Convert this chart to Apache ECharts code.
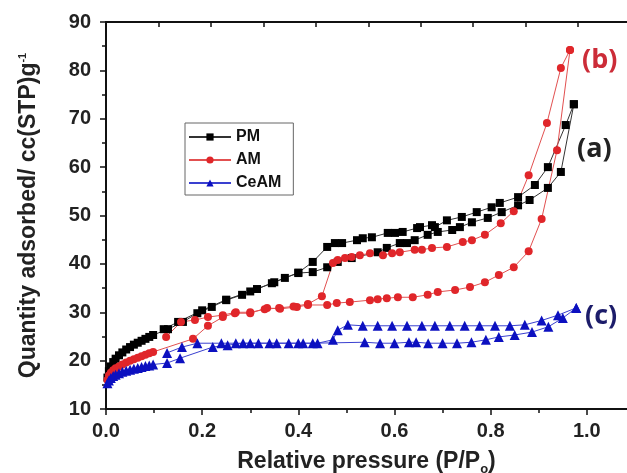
<!DOCTYPE html>
<html>
<head>
<meta charset="utf-8">
<script src="https://cdn.jsdelivr.net/npm/echarts@6/dist/echarts.min.js"></script>
<style>
html,body{margin:0;padding:0;background:#fff;overflow:hidden;}
#chart{width:627px;height:473px;}
</style>
</head>
<body>
<div id="chart"></div>
<script>
// ---- tick labels ----
var xTicks = [0.0, 0.2, 0.4, 0.6, 0.8, 1.0];
var yTicks = [10, 20, 30, 40, 50, 60, 70, 80, 90];
var seriesNames = ['PM', 'AM', 'CeAM'];
var annotations = ['(b)', '(a)', '(c)'];

// ---- PM (black squares) ----
var pmAdsP = [0.003,0.006,0.01,0.015,0.02,0.027,0.034,0.042,0.05,0.058,0.066,0.074,0.082,0.09,0.098,0.129,0.16,0.19,0.22,0.25,0.283,0.314,0.345,0.372,0.4,0.43,0.46,0.482,0.511,0.565,0.584,0.611,0.626,0.642,0.669,0.69,0.72,0.736,0.761,0.794,0.823,0.857,0.881,0.919,0.946,0.973];
var pmAdsV = [16.5,17.8,18.8,19.7,20.4,21.1,21.7,22.3,22.8,23.3,23.7,24.1,24.5,24.9,25.3,26.5,28.0,29.8,31.1,32.5,33.6,34.8,36.0,37.1,38.1,38.3,39.3,40.4,41.2,42.4,43.3,44.3,44.3,44.9,46.0,46.6,47.0,47.6,48.6,49.5,50.7,52.1,53.2,55.7,59.0,73.0];
var pmDesP = [0.973,0.956,0.919,0.892,0.857,0.819,0.802,0.771,0.74,0.709,0.684,0.678,0.653,0.647,0.617,0.601,0.586,0.553,0.534,0.522,0.491,0.476,0.46,0.43,0.4,0.35,0.3,0.25,0.2,0.15,0.12];
var pmDesV = [73.0,68.7,60.0,56.3,53.8,52.6,51.7,50.7,49.7,49.0,47.6,48.0,47.6,47.4,46.6,46.4,46.4,45.5,45.3,44.9,44.3,44.3,43.5,40.4,38.2,36.2,34.3,32.6,30.4,28.0,26.5];

// ---- AM (red circles) ----
var amAdsP = [0.003,0.006,0.01,0.015,0.02,0.027,0.034,0.042,0.05,0.058,0.066,0.074,0.082,0.09,0.098,0.181,0.212,0.243,0.268,0.3,0.335,0.362,0.397,0.42,0.46,0.48,0.507,0.549,0.565,0.584,0.607,0.638,0.669,0.69,0.726,0.757,0.788,0.817,0.848,0.879,0.906,0.938,0.965];
var amAdsV = [16.0,16.9,17.5,18.0,18.4,18.8,19.2,19.6,20.0,20.3,20.6,20.9,21.2,21.5,21.8,24.5,27.2,29.0,29.8,29.8,30.9,30.7,31.1,31.5,31.5,31.9,32.1,32.5,32.7,32.9,33.1,33.1,33.6,34.2,34.6,35.2,36.2,37.7,39.3,42.6,49.3,63.5,84.2];
var amDesP = [0.965,0.946,0.917,0.879,0.848,0.821,0.788,0.761,0.742,0.709,0.678,0.657,0.642,0.611,0.595,0.576,0.549,0.528,0.511,0.497,0.482,0.472,0.449,0.42,0.39,0.36,0.33,0.3,0.27,0.243,0.212,0.185,0.156,0.125];
var amDesV = [84.2,80.5,69.1,58.3,50.9,48.4,46.0,44.9,44.5,43.5,43.3,42.9,42.9,42.4,42.2,41.8,42.2,41.8,41.4,41.2,40.8,40.2,33.3,31.7,31.2,30.9,30.6,30.0,30.0,29.4,29.0,28.4,28.0,24.9];

// ---- CeAM (blue triangles) ----
var ceAdsP = [0.003,0.006,0.01,0.015,0.02,0.027,0.034,0.042,0.05,0.058,0.066,0.074,0.082,0.09,0.098,0.127,0.154,0.222,0.253,0.285,0.317,0.355,0.4,0.43,0.538,0.57,0.6,0.63,0.645,0.67,0.7,0.73,0.76,0.79,0.817,0.85,0.886,0.92,0.95,0.978];
var ceAdsV = [15.3,15.9,16.4,16.8,17.1,17.4,17.7,17.9,18.1,18.3,18.5,18.7,18.9,19.0,19.2,19.5,20.5,22.8,23.2,23.6,23.6,23.6,23.6,23.6,23.8,23.6,23.6,23.8,23.8,23.6,23.6,23.6,23.8,24.3,24.9,25.3,25.9,27.0,28.8,30.9];
var ceDesP = [0.978,0.94,0.906,0.871,0.84,0.809,0.777,0.746,0.715,0.684,0.657,0.626,0.595,0.565,0.534,0.503,0.482,0.472,0.44,0.41,0.38,0.34,0.3,0.27,0.24,0.19,0.158,0.127];
var ceDesV = [30.9,29.4,28.3,27.4,27.2,27.2,27.2,27.2,27.2,27.2,27.2,27.2,27.2,27.2,27.2,27.4,26.3,24.3,23.6,23.6,23.6,23.6,23.6,23.6,23.6,23.6,22.8,21.6];

function zip(p1, v1, p2, v2) {
  var out = [];
  for (var i = 0; i < p1.length; i++) out.push([p1[i], v1[i]]);
  for (var j = 0; j < p2.length; j++) out.push([p2[j], v2[j]]);
  return out;
}

var FONT = '"Liberation Sans", Arial, sans-serif';
var chart = echarts.init(document.getElementById('chart'), null, {renderer: 'canvas'});

var option = {
  backgroundColor: '#fff',
  animation: false,
  grid: {left: 106, top: 22, width: 577, height: 387, containLabel: false, outerBoundsMode: 'none'},
  legend: {
    orient: 'vertical',
    left: 185, top: 123,
    data: seriesNames,
    itemWidth: 42, itemHeight: 9, itemGap: 7,
    borderColor: '#666', borderWidth: 1,
    padding: [6, 12, 4, 3],
    textStyle: {fontFamily: FONT, fontWeight: 'bold', fontSize: 16, color: '#111'}
  },
  xAxis: [{
    type: 'value', position: 'bottom', min: 0, max: 1.2, interval: 0.2,
    name: 'Relative pressure (P/P{sub|o})',
    nameLocation: 'middle', nameGap: 38,
    nameTextStyle: {fontFamily: FONT, fontWeight: 'bold', fontSize: 23, color: '#222', padding: [0, 56, 0, 0],
      rich: {sub: {fontFamily: FONT, fontWeight: 'bold', fontSize: 13, color: '#222', padding: [16, 0, 0, 0]}}},
    axisLine: {show: true, onZero: false, lineStyle: {color: '#111', width: 2}},
    axisTick: {show: true, inside: false, length: 6, lineStyle: {color: '#111', width: 1.5}},
    minorTick: {show: true, splitNumber: 2, length: 4, lineStyle: {color: '#111', width: 1.5}},
    splitLine: {show: false},
    axisLabel: {show: true, margin: 12, showMaxLabel: false, fontFamily: FONT, fontWeight: 'bold', fontSize: 20, color: '#222',
      formatter: function (v) { return xTicks.indexOf(Math.round(v * 10) / 10) >= 0 ? v.toFixed(1) : ''; }}
  }, {
    type: 'value', position: 'top', min: 0, max: 11, interval: 1,
    axisLine: {show: true, onZero: false, lineStyle: {color: '#111', width: 2}},
    axisTick: {show: true, inside: true, length: 5, lineStyle: {color: '#111', width: 1.5}},
    axisLabel: {show: false},
    splitLine: {show: false}
  }],
  yAxis: {
    type: 'value', min: 10, max: 90, interval: 10,
    name: 'Quantity adsorbed/ cc(STP)g{sup|-1}',
    nameLocation: 'middle', nameGap: 65, nameRotate: 90,
    nameTextStyle: {fontFamily: FONT, fontWeight: 'bold', fontSize: 23, color: '#222',
      rich: {sup: {fontFamily: FONT, fontWeight: 'bold', fontSize: 11, color: '#222', verticalAlign: 'top', padding: [0, 0, 13, 0]}}},
    axisLine: {show: true, onZero: false, lineStyle: {color: '#111', width: 2}},
    axisTick: {show: true, inside: false, length: 6, lineStyle: {color: '#111', width: 1.5}},
    minorTick: {show: true, splitNumber: 2, length: 4, lineStyle: {color: '#111', width: 1.5}},
    splitLine: {show: false},
    axisLabel: {margin: 15, fontFamily: FONT, fontWeight: 'bold', fontSize: 20, color: '#222',
      formatter: function (v) { return yTicks.indexOf(v) >= 0 ? String(v) : ''; }}
  },
  series: [{
    name: seriesNames[0], type: 'line', xAxisIndex: 0,
    data: zip(pmAdsP, pmAdsV, pmDesP, pmDesV),
    symbol: 'rect', symbolSize: 8,
    itemStyle: {color: '#000'},
    lineStyle: {color: '#333', width: 1}
  }, {
    name: seriesNames[1], type: 'line', xAxisIndex: 0,
    data: zip(amAdsP, amAdsV, amDesP, amDesV),
    symbol: 'circle', symbolSize: 8,
    itemStyle: {color: '#e0262a'},
    lineStyle: {color: '#e25050', width: 1}
  }, {
    name: seriesNames[2], type: 'line', xAxisIndex: 0,
    data: zip(ceAdsP, ceAdsV, ceDesP, ceDesV),
    symbol: 'triangle', symbolSize: 10,
    itemStyle: {color: '#0c10c0'},
    lineStyle: {color: '#3a40d0', width: 1}
  }],
  graphic: [
    {type: 'text', left: 582, top: 47, style: {text: annotations[0], font: 'bold 27px "Open Sans", sans-serif', fill: '#cc2c38'}},
    {type: 'text', left: 577, top: 136, style: {text: annotations[1], font: 'bold 27px "Open Sans", sans-serif', fill: '#222'}},
    {type: 'text', left: 585, top: 303, style: {text: annotations[2], font: 'bold 27px "Open Sans", sans-serif', fill: '#1c1c6a'}}
  ]
};
chart.setOption(option);
</script>
</body>
</html>
